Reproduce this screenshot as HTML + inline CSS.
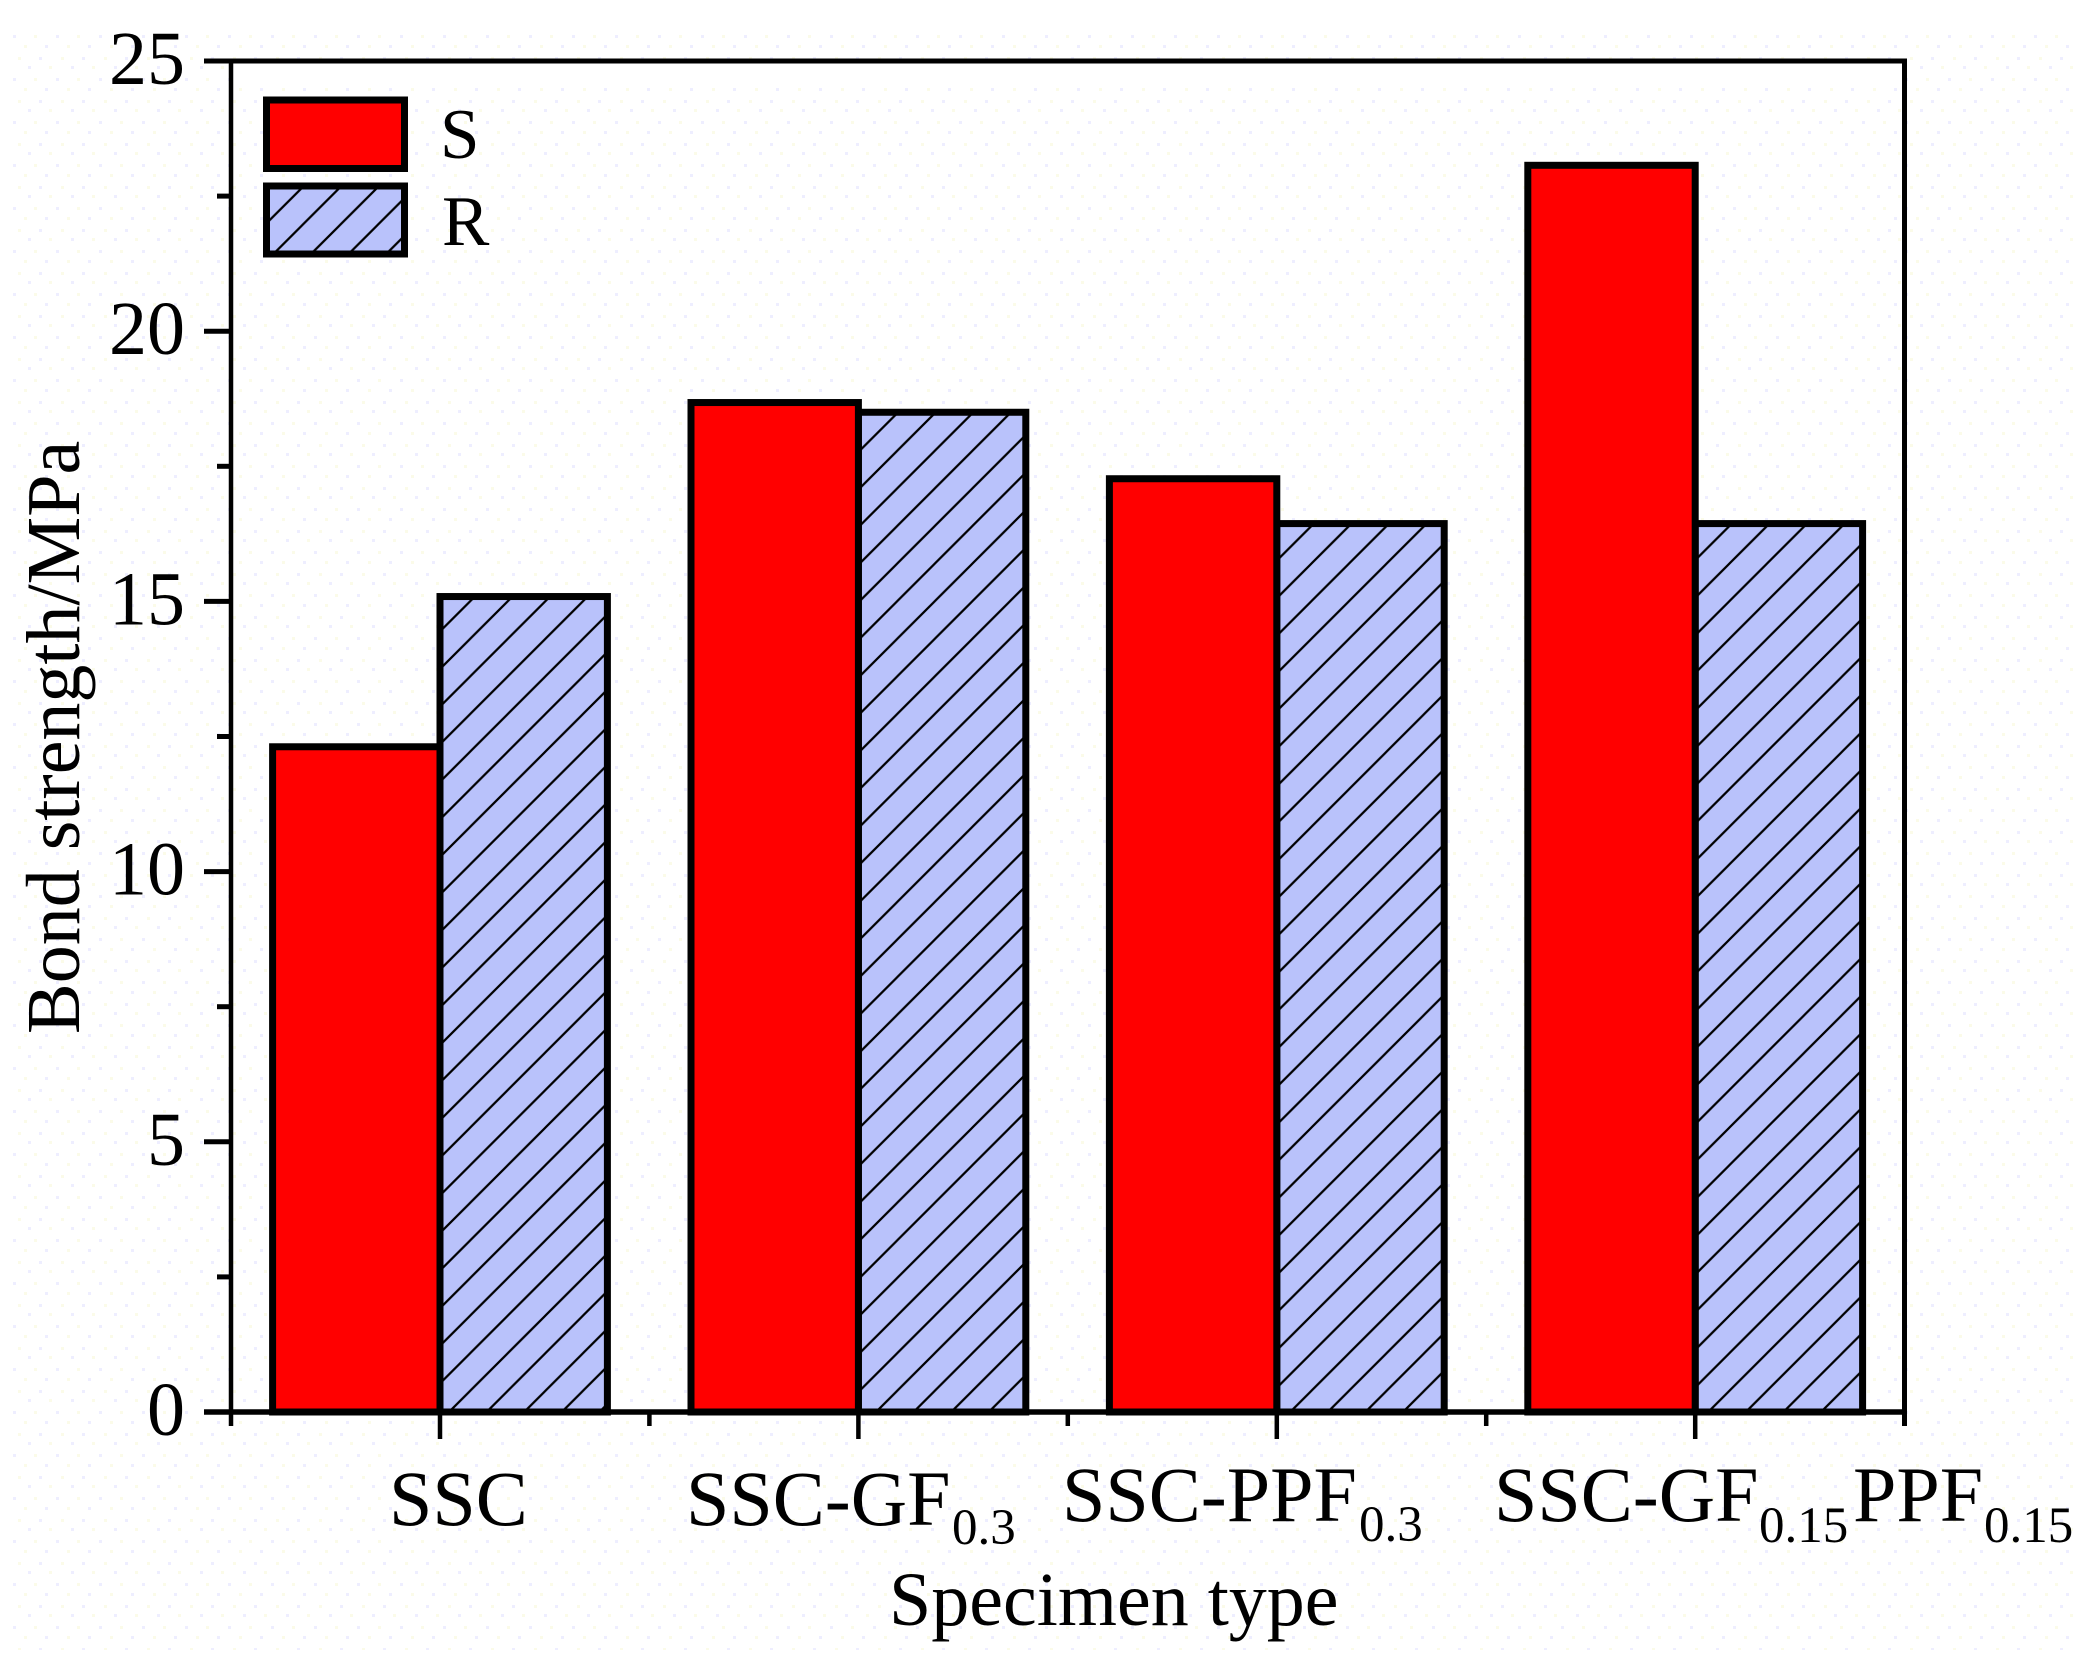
<!DOCTYPE html>
<html lang="en">
<head>
<meta charset="utf-8">
<title>Bond strength by specimen type</title>
<style>
html,body{margin:0;padding:0;background:#fff;}
svg{display:block;}
text{font-family:"Liberation Serif","Times New Roman",serif;fill:#000;}
</style>
</head>
<body>
<svg id="chart" xmlns="http://www.w3.org/2000/svg" width="2086" height="1659" viewBox="0 0 2086 1659">
  <defs>
    <pattern id="paper" x="10" y="28" width="43" height="43" patternUnits="userSpaceOnUse">
      <rect x="3" y="7" width="3" height="3" fill="#eeeeff"/>
      <rect x="24" y="7" width="3" height="3" fill="#fbfbe9"/>
      <rect x="14" y="17" width="3" height="3" fill="#fbfbe9"/>
      <rect x="35" y="17" width="3" height="3" fill="#eeeeff"/>
      <rect x="8" y="29" width="3" height="3" fill="#fbfbe9"/>
      <rect x="29" y="29" width="3" height="3" fill="#eeeeff"/>
      <rect x="18" y="38" width="3" height="3" fill="#eeeeff"/>
      <rect x="39" y="38" width="3" height="3" fill="#fbfbe9"/>
    </pattern>
    <pattern id="hatch-0" x="18.6" y="0" width="37.6" height="37.6" patternUnits="userSpaceOnUse">
      <rect width="37.6" height="37.6" fill="#b9c2fb"/>
      <path d="M-4 4 L4 -4 M0 37.6 L37.6 0 M33.6 41.6 L41.6 33.6" stroke="#000" stroke-width="2.2" fill="none"/>
    </pattern>
    <pattern id="hatch-1" x="32" y="0" width="37.6" height="37.6" patternUnits="userSpaceOnUse">
      <rect width="37.6" height="37.6" fill="#b9c2fb"/>
      <path d="M-4 4 L4 -4 M0 37.6 L37.6 0 M33.6 41.6 L41.6 33.6" stroke="#000" stroke-width="2.2" fill="none"/>
    </pattern>
    <pattern id="hatch-2" x="32.6" y="0" width="37.6" height="37.6" patternUnits="userSpaceOnUse">
      <rect width="37.6" height="37.6" fill="#b9c2fb"/>
      <path d="M-4 4 L4 -4 M0 37.6 L37.6 0 M33.6 41.6 L41.6 33.6" stroke="#000" stroke-width="2.2" fill="none"/>
    </pattern>
    <pattern id="hatch-3" x="37" y="0" width="37.6" height="37.6" patternUnits="userSpaceOnUse">
      <rect width="37.6" height="37.6" fill="#b9c2fb"/>
      <path d="M-4 4 L4 -4 M0 37.6 L37.6 0 M33.6 41.6 L41.6 33.6" stroke="#000" stroke-width="2.2" fill="none"/>
    </pattern>
    <pattern id="hatch-legend" x="1" y="0" width="37.6" height="37.6" patternUnits="userSpaceOnUse">
      <rect width="37.6" height="37.6" fill="#b9c2fb"/>
      <path d="M-4 4 L4 -4 M0 37.6 L37.6 0 M33.6 41.6 L41.6 33.6" stroke="#000" stroke-width="2.2" fill="none"/>
    </pattern>
  </defs>
  <rect x="10" y="28" width="2066" height="1622" fill="url(#paper)"/>
  <rect x="233" y="63" width="1669" height="22" fill="#fff"/>
  <g id="marks"></g>
  <g id="axes"></g>

  <g>
    <g>
      <rect x="266.5" y="100" width="138" height="68.5" fill="#ff0000" stroke="#000" stroke-width="7"/>
      <text x="440" y="158" font-size="71">S</text>
    </g>
    <g>
      <rect x="266.5" y="186" width="138" height="68" fill="url(#hatch-legend)" stroke="#000" stroke-width="7"/>
      <text x="442" y="245" font-size="71">R</text>
    </g>
  </g>

  <g>
    <text x="389" y="1525" font-size="78">SSC</text>
    <text><tspan x="686" y="1525" font-size="78">SSC-GF</tspan><tspan x="952" y="1544" font-size="51">0.3</tspan></text>
    <text><tspan x="1062" y="1521" font-size="78">SSC-PPF</tspan><tspan x="1359" y="1541" font-size="51">0.3</tspan></text>
    <text><tspan x="1494" y="1521" font-size="78">SSC-GF</tspan><tspan x="1759" y="1542" font-size="51">0.15</tspan><tspan x="1853" y="1521" font-size="78">PPF</tspan><tspan x="1984" y="1542" font-size="51">0.15</tspan></text>
  </g>

  <text x="889" y="1625" font-size="76">Specimen type</text>
  <text transform="translate(79,1034) rotate(-90)" font-size="76">Bond strength/MPa</text>
</svg>

<script>
var categories = ["SSC", "SSC-GF0.3", "SSC-PPF0.3", "SSC-GF0.15PPF0.15"];
var seriesS = [12.31, 18.68, 17.27, 23.07];
var seriesR = [15.09, 18.5, 16.44, 16.44];
var yTickLabels = ["0", "5", "10", "15", "20", "25"];
var yMinorTicks = [2.5, 7.5, 12.5, 17.5, 22.5];

var NS = "http://www.w3.org/2000/svg";
var marks = document.getElementById("marks");
var axes = document.getElementById("axes");

function yScale(v) { return 1412 - (v / 25) * 1351; }
function xCenter(i) { return 440 + 418.4 * i; }
function xEdge(i) { return 231 + 418.4 * i; }
var barWidth = 167.4;

function rect(parent, x, y, w, h, fill, sw) {
  var el = document.createElementNS(NS, "rect");
  el.setAttribute("x", x);
  el.setAttribute("y", y);
  el.setAttribute("width", w);
  el.setAttribute("height", h);
  el.setAttribute("fill", fill);
  if (sw) {
    el.setAttribute("stroke", "#000");
    el.setAttribute("stroke-width", sw);
  }
  parent.appendChild(el);
  return el;
}

function line(parent, x1, y1, x2, y2, sw) {
  var el = document.createElementNS(NS, "line");
  el.setAttribute("x1", x1);
  el.setAttribute("y1", y1);
  el.setAttribute("x2", x2);
  el.setAttribute("y2", y2);
  el.setAttribute("stroke", "#000");
  el.setAttribute("stroke-width", sw);
  parent.appendChild(el);
  return el;
}

categories.forEach(function (cat, i) {
  var c = xCenter(i);
  var yR = yScale(seriesR[i]);
  var barR = rect(marks, c, yR, barWidth, yScale(0) - yR, "url(#hatch-" + i + ")", 7);
  
  
  var yS = yScale(seriesS[i]);
  var barS = rect(marks, c - barWidth, yS, barWidth, yScale(0) - yS, "#ff0000", 7);
  
  
});

var leftAxis = line(axes, 231, 61, 231, 1414, 4.5);


var rightAxis = line(axes, 1904.5, 59, 1904.5, 1426, 5);


var topAxis = line(axes, 204, 61, 1907, 61, 5);


var bottomAxis = line(axes, 204, 1412, 1907, 1412, 5.5);



yTickLabels.forEach(function (label) {
  var y = yScale(Number(label));
  var tick = line(axes, 204, y, 231, y, 5);
  
  
  var t = document.createElementNS(NS, "text");
  t.setAttribute("x", 185);
  t.setAttribute("y", y + 23);
  t.setAttribute("text-anchor", "end");
  t.setAttribute("font-size", 76);
  t.textContent = label;
  
  
  axes.appendChild(t);
});

yMinorTicks.forEach(function (v) {
  var y = yScale(v);
  var tick = line(axes, 217, y, 231, y, 5);
  
  
});

categories.forEach(function (cat, i) {
  var major = line(axes, xCenter(i), 1412, xCenter(i), 1439, 4.5);
  
  
  var minor = line(axes, xEdge(i), 1412, xEdge(i), 1426, 4.5);
  
  
});
</script>
</body>
</html>
